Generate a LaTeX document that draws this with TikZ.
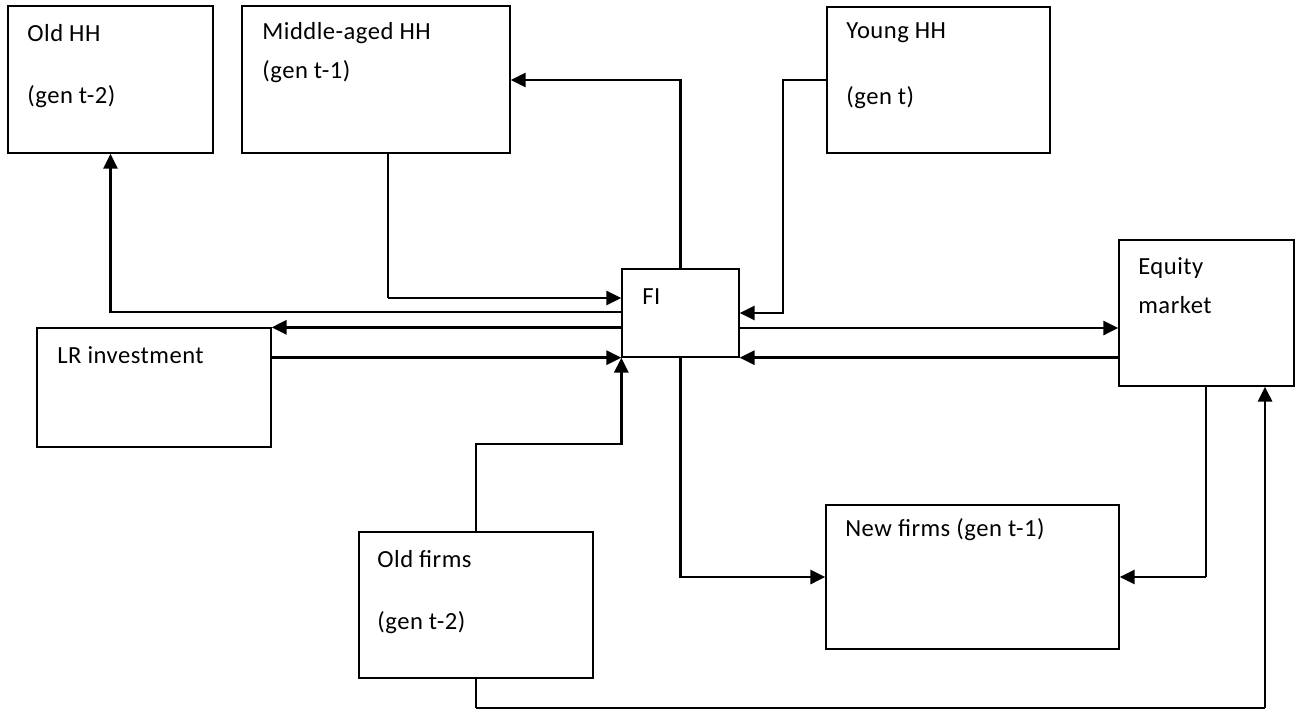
\documentclass[tikz,border=0pt]{standalone}
\usepackage{fontspec}
\setmainfont[LetterSpace=2]{Carlito}
\usetikzlibrary{arrows.meta,fit}
\begin{document}
\begin{tikzpicture}[x=0.02cm,y=-0.02cm,
  box/.style={draw,line width=0.75pt,inner sep=0pt},
  lbl/.style={anchor=west,inner sep=0pt,font=\fontsize{14}{16}\selectfont},
  arr/.style={line width=1.5pt,-{Triangle[length=8.5pt,width=8pt]}},
  thk/.style={line width=1.5pt},
  thn/.style={line width=0.75pt},
  med/.style={line width=1.1pt}]
\useasboundingbox (0,0) rectangle (1300,710);
% boxes
\node[box,fit={(8,6) (213,153)}] (oldhh) {};
\node[box,fit={(242,6) (510,153)}] (midhh) {};
\node[box,fit={(827,7) (1050,153)}] (younghh) {};
\node[box,fit={(622,269) (739,357)}] (fi) {};
\node[box,fit={(1119,240) (1294,386)}] (eq) {};
\node[box,fit={(37,328) (271,447)}] (lr) {};
\node[box,fit={(359,532) (593,678)}] (oldf) {};
\node[box,fit={(826,505) (1119,649)}] (newf) {};
% texts
\node[lbl] (t1) at (27,33) {Old HH};
\node[lbl] (t2) at (27,97) {(gen t-2)};
\node[lbl] (t3) at (262,33) {Middle-aged HH};
\node[lbl] (t4) at (262,72) {(gen t-1)};
\node[lbl] (t5) at (846,33) {Young HH};
\node[lbl] (t6) at (846,98) {(gen t)};
\node[lbl] (t7) at (642,297) {FI};
\node[lbl] (t8) at (1138,268) {Equity};
\node[lbl] (t9) at (1138,305) {market};
\node[lbl] (t10) at (57,355) {LR investment};
\node[lbl] (t11) at (377,559) {Old firms};
\node[lbl] (t12) at (377,623) {(gen t-2)};
\node[lbl] (t13) at (845,530) {New firms (gen t-1)};
% helper coordinates
\coordinate (c1) at (388,298);
\coordinate (c2) at (680,80);
\coordinate (c3) at (783,80);
\coordinate (c3b) at (783,313);
\coordinate (c0) at (0,312);
\coordinate (c4) at (476,444);
\coordinate (c5) at (0,328);
\coordinate (c7) at (0,577);
\coordinate (c8) at (1206,577);
\coordinate (c9) at (476,708);
\coordinate (c10) at (1265,708);
% connectors
\draw[arr] (fi.west |- c0) -| (oldhh.south);
\draw[thn] (midhh.south -| c1) -- (c1);
\draw[arr] (c1) -- (fi.west |- c1);
\draw[arr] (fi.north) |- (midhh.east |- c2);
\draw[arr] (younghh.west |- c3) -| (c3b) -- (fi.east |- c3b);
\draw[arr] (fi.west |- lr.north) -- (lr.north east);
\draw[arr] (lr.east |- fi.south) -- (fi.south west);
\draw[arr] (oldf.north) |- (fi.south west |- c4) -- (fi.south west);
\draw[arr] (fi.east |- c5) -- (eq.west |- c5);
\draw[arr] (eq.west |- fi.south) -- (fi.south east);
\draw[arr] (fi.south) |- (newf.west |- c7);
\draw[thk] (eq.south -| c8) -- (c8);
\draw[arr] (c8) -- (newf.east |- c8);
\draw[thn] (oldf.south) -- (c9);
\draw[med] (c9) -- (c10);
\draw[arr] (c10) -- (eq.south -| c10);
\end{tikzpicture}
\end{document}
